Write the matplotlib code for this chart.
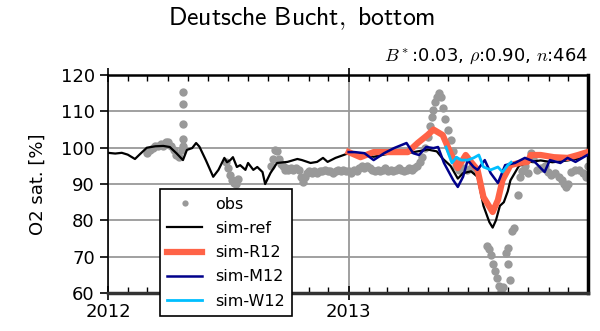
import numpy as np
import matplotlib
matplotlib.use('Agg')
import matplotlib.pyplot as plt
import matplotlib.dates as mdates

plt.rcParams['mathtext.fontset'] = 'cm'

# days since 2012-01-01
ref_day = [0, 11, 21, 30, 41, 49, 59, 72, 84, 94, 104, 114, 120, 128, 134, 139, 149, 160,
           168, 177, 181, 186, 190, 196, 201, 209, 213, 221, 227, 235, 239, 247, 257, 273,
           288, 295, 308, 318, 327, 334, 346, 366, 384, 404, 430, 456, 471, 486, 500, 509,
           521, 532, 540, 552, 562, 571, 580, 585, 590, 596, 602, 608, 612, 625, 638, 658,
           676, 699, 715, 729]
ref_val = [98.6, 98.4, 98.6, 98.1, 96.9, 98.3, 100.0, 100.4, 100.5, 100.2, 98.5, 96.6, 99.4,
           99.9, 101.3, 100.3, 96.5, 92.0, 93.9, 97.2, 96.0, 96.6, 97.4, 94.7, 95.2, 93.9,
           95.8, 93.9, 94.7, 93.3, 90.0, 93.0, 95.8, 96.1, 96.9, 96.6, 95.8, 96.1, 97.2, 96.1,
           97.2, 98.5, 98.5, 97.5, 98.5, 98.5, 99.0, 99.5, 99.0, 97.0, 95.0, 91.5, 93.0,
           93.5, 92.0, 84.0, 79.5, 78.0, 80.0, 84.0, 85.0, 88.0, 91.0, 95.0, 96.0, 96.5,
           96.0, 96.5, 97.0, 98.0]

r12_day = [366, 384, 404, 430, 456, 471, 486, 495, 509, 521, 532, 544, 552, 562, 571, 585,
           593, 600, 612, 625, 638, 643, 658, 678, 699, 715, 729]
r12_val = [98.8, 97.4, 98.8, 98.8, 98.8, 101.3, 103.5, 105.0, 103.5, 98.5, 94.4, 98.0, 96.1,
           93.9, 86.4, 82.3, 85.6, 91.1, 95.2, 95.8, 96.1, 98.0, 98.0, 97.4, 97.2, 98.0, 98.8]

m12_day = [366, 375, 390, 404, 420, 435, 454, 464, 473, 484, 495, 502, 511, 525, 532, 540,
           547, 556, 562, 573, 582, 593, 604, 619, 634, 649, 664, 672, 688, 699, 711, 729]
m12_val = [98.8, 98.8, 98.5, 96.6, 98.5, 99.9, 101.3, 98.5, 98.0, 100.2, 99.9, 100.2, 95.8,
           91.1, 89.2, 92.0, 96.6, 94.7, 93.9, 96.6, 93.0, 90.3, 95.2, 95.8, 97.2, 96.1, 93.3,
           96.6, 95.8, 97.2, 96.1, 98.0]

w12_day = [514, 523, 530, 537, 547, 556, 564, 571, 582, 593, 600, 608, 613]
w12_val = [100.2, 95.8, 97.4, 96.6, 96.6, 97.2, 98.0, 94.7, 93.9, 94.7, 93.3, 95.2, 96.0]

obs_day = [60, 64, 68, 72, 76, 80, 84, 88, 92, 96, 100, 104, 108, 112,
           114, 114, 114, 114, 114,
           180, 183, 186, 189, 192, 195, 198,
           248, 251, 254, 257, 260, 263, 266, 269,
           270, 274, 278, 282, 286, 290, 294, 297, 300, 303, 306, 310, 314, 318, 322, 326,
           330, 334, 338, 342, 346, 350, 354, 358, 362,
           366, 370, 374, 378, 382, 386, 390, 394, 398, 402, 406, 410, 414, 418, 422, 426,
           430, 434, 438, 442, 446, 450, 454, 458, 462, 466, 470, 474, 478,
           482, 486, 489, 492, 495, 498, 501, 504, 507, 510, 513, 517, 521, 524, 527, 530,
           534, 540, 546, 552, 558,
           576, 579, 582, 585, 588, 591, 594, 597, 600, 605, 608, 609, 612, 615, 617, 623,
           626, 630, 634, 638, 643, 647, 653, 658, 664, 669, 674, 680, 686, 690, 693, 696,
           700, 704, 710, 716, 722, 727, 730]
obs_val = [98.5, 99.5, 100.0, 100.5, 100.5, 101.0, 100.5, 101.5, 101.5, 100.5, 99.5, 98.0, 97.5, 99.5,
           115.3, 112.0, 106.5, 102.4, 100.5,
           96.0, 94.5, 92.5, 91.0, 90.2, 90.0, 91.5,
           95.0, 97.0, 99.5, 99.0, 97.0, 95.5, 95.0, 94.0,
           94.5, 94.0, 94.5, 94.0, 94.5, 94.0, 92.0, 90.5, 92.0, 93.0, 93.5, 93.0, 93.5, 93.0,
           93.5, 93.5, 94.0, 93.5, 93.5, 93.0, 93.5, 94.0, 93.5, 94.0, 93.5,
           93.5, 93.0, 94.0, 93.5, 94.5, 95.0, 94.5, 95.0, 94.5, 94.0, 93.5, 94.0, 93.5, 94.0,
           94.5, 93.5, 94.0, 93.5, 94.0, 94.5, 94.0, 93.5, 94.0, 94.5, 94.0, 94.5, 95.0, 96.0,
           97.5,
           100.0, 103.0, 106.0, 108.5, 110.5, 112.5, 114.0, 115.0, 114.0, 111.0, 108.0, 105.0,
           102.0, 99.0, 96.5, 95.0,
           94.0, 94.5, 94.0, 94.5, 94.0,
           73.0, 72.0, 70.5, 68.0, 66.0, 64.0, 62.0, 60.5, 61.5, 71.0, 72.5, 68.0, 63.5, 77.0,
           78.0, 87.0,
           92.0, 93.5, 95.0, 93.0, 98.5, 97.0, 93.9, 94.5, 95.0, 93.3, 92.5, 93.0, 92.0, 91.0,
           90.0, 89.2, 90.0, 93.3, 94.0, 93.9, 93.0, 92.0, 95.0]


def to_dates(days):
    return np.datetime64('2012-01-01') + np.array(days).astype('timedelta64[D]')


fig = plt.figure(figsize=(6.0, 3.31), dpi=100)
ax = fig.add_axes([0.18, 0.115, 0.80, 0.658])

ax.plot(to_dates(obs_day), obs_val, 'o', color='#999999', ms=6, mec='none', label='obs', zorder=2)
ax.plot(to_dates(ref_day), ref_val, color='black', lw=1.6, label='sim-ref', zorder=3)
ax.plot(to_dates(r12_day), r12_val, color='tomato', lw=4.5, label='sim-R12', zorder=4)
ax.plot(to_dates(m12_day), m12_val, color='#00008B', lw=1.8, label='sim-M12', zorder=5)
ax.plot(to_dates(w12_day), w12_val, color='#00BFFF', lw=2.0, label='sim-W12', zorder=6)

ax.set_xlim(np.datetime64('2012-01-01'), np.datetime64('2013-12-31'))
ax.set_ylim(60, 120)
ax.set_yticks([60, 70, 80, 90, 100, 110, 120])
ax.xaxis.set_major_locator(mdates.YearLocator())
ax.xaxis.set_major_formatter(mdates.DateFormatter('%Y'))
ax.xaxis.set_minor_locator(mdates.MonthLocator())

ax.grid(True, which='major', color='#999999', lw=1.3, zorder=1)
ax.set_axisbelow(True)

ax.tick_params(axis='both', which='major', labelsize=13)
ax.tick_params(axis='y', which='major', direction='out', length=6, width=1.2,
               left=True, right=False)
ax.tick_params(axis='x', which='major', direction='inout', length=10, width=1.2,
               top=True, pad=2)
ax.tick_params(axis='x', which='minor', direction='in', length=4, width=1.0,
               top=True, bottom=True)
ax.tick_params(axis='y', which='minor', left=False, right=False)

ax.spines['left'].set_linewidth(1.2)
ax.spines['bottom'].set_linewidth(2.5)
ax.spines['bottom'].set_color('#333333')
ax.spines['right'].set_linewidth(2.5)
ax.spines['top'].set_linewidth(1.8)

ax.set_ylabel('O2 sat. [%]', fontsize=13, labelpad=10)

leg = ax.legend(loc='upper left', bbox_to_anchor=(0.108, 0.475), fontsize=11.5,
                frameon=True, fancybox=False, framealpha=1, edgecolor='black',
                markerscale=0.75, handlelength=2.2, borderpad=0.45, labelspacing=0.58,
                borderaxespad=0)
leg.get_frame().set_linewidth(1.2)
leg.set_zorder(10)

fig.text(0.503, 0.944, r'$\mathsf{Deutsche\ Bucht,\ bottom}$', ha='center', va='center',
         fontsize=18.5)
ax.text(1.0, 1.04, r'$B^*$:0.03, $\rho$:0.90, $n$:464', ha='right', va='bottom',
        fontsize=13, transform=ax.transAxes)

fig.savefig('out.png', dpi=100)
